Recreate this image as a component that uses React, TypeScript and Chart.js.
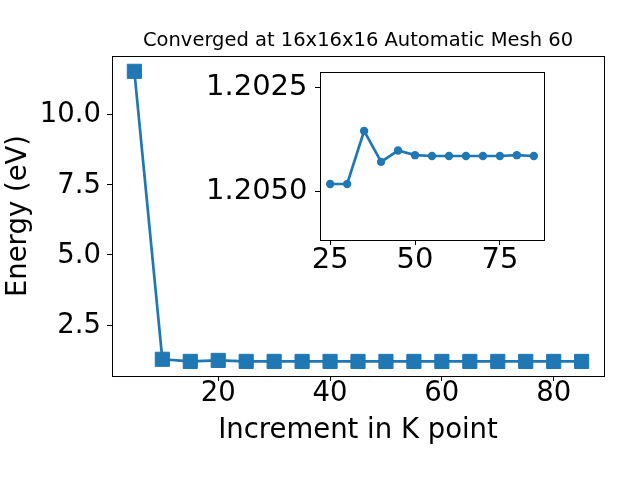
import React, { useEffect, useRef } from "react";
import { Chart, registerables } from "chart.js";

Chart.register(...registerables);

// ---- data ----
const kPoints = [5, 10, 15, 20, 25, 30, 35, 40, 45, 50, 55, 60, 65, 70, 75, 80, 85];
const energies = [
  11.53, 1.28, 1.205, 1.24, 1.20481, 1.20481, 1.20354, 1.20428, 1.20401, 1.20412,
  1.20414, 1.20414, 1.20414, 1.20414, 1.20414, 1.20412, 1.20414,
];
const insetK = [25, 30, 35, 40, 45, 50, 55, 60, 65, 70, 75, 80, 85];
const insetEnergies = [
  1.20481, 1.20481, 1.20354, 1.20428, 1.20401, 1.20412, 1.20414, 1.20414, 1.20414,
  1.20414, 1.20414, 1.20412, 1.20414,
];
const mainXTicks = [20, 40, 60, 80];
const mainYTicks = [2.5, 5.0, 7.5, 10.0];
const insetXTicks = [25, 50, 75];
const insetYTicks = [1.2025, 1.205];

const titleText = "Converged at 16x16x16 Automatic Mesh 60";
const xTitle = "Increment in K point";
const yTitle = "Energy (eV)";

const BLUE = "#1f77b4";
const FONT = "DejaVu Sans";
const BIG = 27.5;
const INSET_FONT = 29;

const framePlugin = {
  id: "frame",
  beforeDraw(chart: any, _a: any, opts: any) {
    if (opts && opts.fill) {
      const a = chart.chartArea;
      const ctx = chart.ctx;
      ctx.save();
      ctx.fillStyle = "#fff";
      ctx.fillRect(a.left, a.top, a.right - a.left, a.bottom - a.top);
      ctx.restore();
    }
  },
  afterDatasetsDraw(chart: any) {
    const a = chart.chartArea;
    const ctx = chart.ctx;
    ctx.save();
    ctx.strokeStyle = "#000";
    ctx.lineWidth = 1;
    const l = Math.floor(a.left) + 0.5;
    const t = Math.floor(a.top) + 0.5;
    const r = Math.floor(a.right) + 0.5;
    const b = Math.floor(a.bottom) + 0.5;
    ctx.strokeRect(l, t, r - l, b - t);
    ctx.restore();
  },
};

function tickGrid() {
  return {
    display: true,
    drawOnChartArea: false,
    drawTicks: true,
    tickLength: 5,
    color: "#000",
    lineWidth: 1,
  };
}

export default function App() {
  const mainRef = useRef<HTMLCanvasElement | null>(null);
  const insetRef = useRef<HTMLCanvasElement | null>(null);

  useEffect(() => {
    Chart.defaults.font.family = FONT;
    Chart.defaults.color = "#000";

    const main = new Chart(mainRef.current as HTMLCanvasElement, {
      type: "line",
      data: {
        datasets: [
          {
            data: kPoints.map((k, i) => ({ x: k, y: energies[i] })),
            borderColor: BLUE,
            backgroundColor: BLUE,
            borderWidth: 2.7,
            pointStyle: "rect",
            pointRadius: 10,
            pointBorderWidth: 1,
            pointBorderColor: BLUE,
            pointBackgroundColor: BLUE,
            tension: 0,
            clip: false as any,
          },
        ],
      },
      options: {
        animation: false,
        responsive: false,
        events: [],
        layout: { padding: { left: 0, top: 0, right: 36, bottom: 0 } },
        plugins: {
          legend: { display: false },
          tooltip: { enabled: false },
          title: {
            display: true,
            text: titleText,
            fullSize: false,
            color: "#000",
            font: { family: FONT, size: 19.5, weight: "normal", lineHeight: 1.2 },
            padding: { top: 29.3, bottom: 3.3 },
          },
        } as any,
        scales: {
          x: {
            type: "linear",
            min: 1,
            max: 89,
            border: { display: false },
            grid: tickGrid() as any,
            afterBuildTicks: (s: any) => {
              s.ticks = mainXTicks.map((v) => ({ value: v }));
            },
            afterFit: (s: any) => {
              s.height = 104;
            },
            ticks: {
              color: "#000",
              padding: -1,
              maxRotation: 0,
              autoSkip: false,
              font: { family: FONT, size: BIG, lineHeight: 1 },
              callback: (v: any) => String(v),
            },
            title: {
              display: true,
              text: xTitle,
              color: "#000",
              font: { family: FONT, size: BIG, lineHeight: 1.2 },
              padding: { top: 0, bottom: 33 },
            },
          },
          y: {
            type: "linear",
            min: 0.685,
            max: 12.075,
            border: { display: false },
            grid: tickGrid() as any,
            afterBuildTicks: (s: any) => {
              s.ticks = mainYTicks.map((v) => ({ value: v }));
            },
            afterFit: (s: any) => {
              s.width = 112;
            },
            ticks: {
              color: "#000",
              padding: 6,
              labelOffset: 1,
              autoSkip: false,
              font: { family: FONT, size: BIG, lineHeight: 1 },
              callback: (v: any) => Number(v).toFixed(1),
            },
            title: {
              display: true,
              text: yTitle,
              color: "#000",
              font: { family: FONT, size: BIG, lineHeight: 1.2 },
              padding: { top: 2, bottom: 0 },
            },
          },
        },
      } as any,
      plugins: [framePlugin as any],
    });

    const inset = new Chart(insetRef.current as HTMLCanvasElement, {
      type: "line",
      data: {
        datasets: [
          {
            data: insetK.map((k, i) => ({ x: k, y: insetEnergies[i] })),
            borderColor: BLUE,
            backgroundColor: BLUE,
            borderWidth: 2.7,
            pointStyle: "circle",
            pointRadius: 4.2,
            pointBorderWidth: 0,
            pointBackgroundColor: BLUE,
            tension: 0,
          },
        ],
      },
      options: {
        animation: false,
        responsive: false,
        events: [],
        layout: { padding: { left: 0, top: 72, right: 96, bottom: 0 } },
        plugins: {
          legend: { display: false },
          tooltip: { enabled: false },
          title: { display: false },
          frame: { fill: true },
        } as any,
        scales: {
          x: {
            type: "linear",
            min: 22,
            max: 88,
            border: { display: false },
            grid: tickGrid() as any,
            afterBuildTicks: (s: any) => {
              s.ticks = insetXTicks.map((v) => ({ value: v }));
            },
            afterFit: (s: any) => {
              s.height = 240;
            },
            ticks: {
              color: "#000",
              padding: 0.5,
              maxRotation: 0,
              autoSkip: false,
              font: { family: FONT, size: INSET_FONT, lineHeight: 1 },
              callback: (v: any) => String(v),
            },
          },
          y: {
            type: "linear",
            reverse: true,
            min: 1.20213,
            max: 1.20615,
            border: { display: false },
            grid: tickGrid() as any,
            afterBuildTicks: (s: any) => {
              s.ticks = insetYTicks.map((v) => ({ value: v }));
            },
            afterFit: (s: any) => {
              s.width = 320;
            },
            ticks: {
              color: "#000",
              padding: 7.5,
              autoSkip: false,
              font: { family: FONT, size: INSET_FONT, lineHeight: 1 },
              callback: (v: any) => Number(v).toFixed(4),
            },
          },
        },
      } as any,
      plugins: [framePlugin as any],
    });

    return () => {
      main.destroy();
      inset.destroy();
    };
  }, []);

  return (
    <div style={{ position: "fixed", left: 0, top: 0, width: 640, height: 480, background: "#fff" }}>
      <canvas
        ref={mainRef}
        width={640}
        height={480}
        style={{ position: "absolute", left: 0, top: 0, width: 640, height: 480 }}
      />
      <canvas
        ref={insetRef}
        width={640}
        height={480}
        style={{ position: "absolute", left: 0, top: 0, width: 640, height: 480 }}
      />
    </div>
  );
}
